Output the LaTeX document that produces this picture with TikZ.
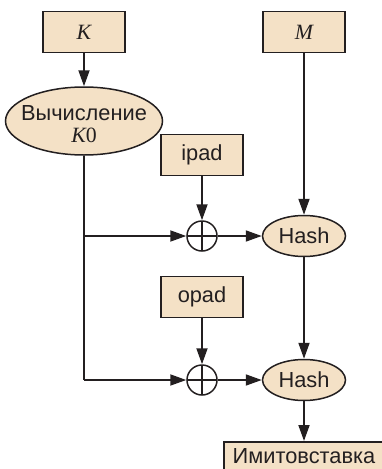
\documentclass[tikz,border=0pt]{standalone}
\usepackage{fontspec}
\setmainfont{Liberation Sans}
\newfontfamily\varfont{Liberation Serif}
\usetikzlibrary{shapes.geometric,arrows.meta}

\definecolor{boxfill}{RGB}{244,225,198}
\definecolor{inkline}{RGB}{35,31,32}

\tikzset{
  every node/.style={font=\fontsize{21.8}{24}\selectfont, text=inkline},
  databox/.style={draw=inkline, line width=1.5pt, fill=boxfill, inner sep=0pt,
    minimum width=82pt, minimum height=41pt},
  procell/.style={ellipse, draw=inkline, line width=1.5pt, fill=boxfill, inner sep=0pt,
    minimum width=83pt, minimum height=41pt},
  xorop/.style={circle, draw=inkline, line width=1.5pt, minimum size=30pt, inner sep=0pt,
    path picture={\draw[inkline, line width=1.5pt]
      (path picture bounding box.north) -- (path picture bounding box.south)
      (path picture bounding box.west) -- (path picture bounding box.east);}},
  flow/.style={draw=inkline, line width=1.8pt, -{Triangle[length=16pt,width=11pt]}},
  wire/.style={draw=inkline, line width=1.8pt},
}

\begin{document}
\begin{tikzpicture}[x=1pt, y=-1pt]
  \useasboundingbox (0,0) rectangle (382,469);

  % inputs
  \node[databox] (key) at (84,32) {\varfont\itshape K};
  \node[databox] (msg) at (304,32) {\varfont\itshape M};

  % key preparation
  \node[ellipse, draw=inkline, line width=1.5pt, fill=boxfill, inner sep=0pt,
        minimum width=157pt, minimum height=68pt] (k0) at (84,121) {};
  \node[align=center, inner sep=0pt] (k0txt) at (84,124)
    {Вычисление\\[-2pt]{\varfont\itshape K}{\varfont 0}};

  % padding constants
  \node[databox] (ipad) at (202,155) {ipad};
  \node[databox] (opad) at (202,297) {opad};

  % XOR junctions
  \node[xorop] (x1) at (202,236) {};
  \node[xorop] (x2) at (202,380) {};

  % hash stages
  \node[procell] (h1) at (304,236) {Hash};
  \node[procell] (h2) at (304,380) {Hash};

  % result
  \node[draw=inkline, line width=1.5pt, fill=boxfill, inner sep=0pt,
        minimum width=160pt, minimum height=44pt, anchor=north] (mac) at (304,441) {};
  \node[anchor=base, inner sep=0pt] (mactxt) at (304,463) {Имитовставка};

  % branching point of the key line
  \coordinate (split) at (84,236);
  \coordinate (corner) at (84,380);

  % connectors
  \draw[flow] (key) -- (k0);
  \draw[flow] (msg) -- (h1);
  \draw[wire] (k0.south) -- (corner);
  \draw[flow] (corner) -- (x2);
  \draw[flow] (split) -- (x1);
  \draw[flow] (ipad) -- (x1);
  \draw[flow] (x1) -- (h1);
  \draw[flow] (h1) -- (h2);
  \draw[flow] (opad) -- (x2);
  \draw[flow] (x2) -- (h2);
  \draw[flow] (h2) -- (mac);
\end{tikzpicture}
\end{document}
